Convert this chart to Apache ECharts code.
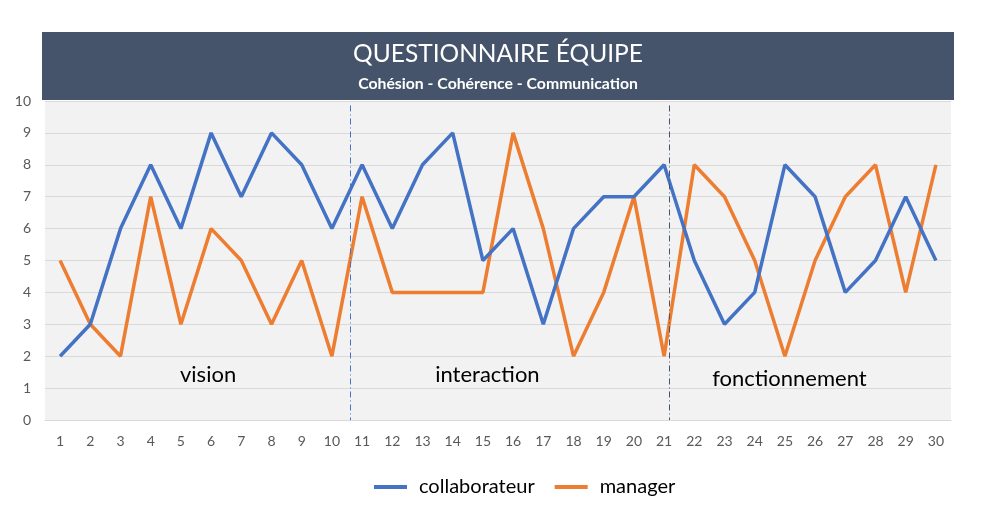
<!DOCTYPE html>
<html><head><meta charset="utf-8">
<script src="https://cdn.jsdelivr.net/npm/echarts@6/dist/echarts.min.js"></script>
<style>html,body{margin:0;padding:0;background:#fff}#c{width:986px;height:526px}</style>
</head><body><div id="c"></div>
<script>
const categories = ['1','2','3','4','5','6','7','8','9','10','11','12','13','14','15','16','17','18','19','20','21','22','23','24','25','26','27','28','29','30'];
const collaborateur = [2,3,6,8,6,9,7,9,8,6,8,6,8,9,5,6,3,6,7,7,8,5,3,4,8,7,4,5,7,5];
const manager = [5,3,2,7,3,6,5,3,5,2,7,4,4,4,4,9,6,2,4,7,2,8,7,5,2,5,7,8,4,8];
const yTicks = [0,1,2,3,4,5,6,7,8,9,10];
const separators = [{x:10.6, color:'#4472C4'}, {x:21.17, color:'#44546A'}];
const sectionLabels = [{text:'vision', x:5.9, y:1.4}, {text:'interaction', x:15.15, y:1.4}, {text:'fonctionnement', x:25.15, y:1.3}];

const FONT = 'Lato, "Open Sans", sans-serif';
const chart = echarts.init(document.getElementById('c'));
chart.setOption({
  animation:false,
  textStyle:{fontFamily:FONT},
  graphic:[
    {type:'rect', shape:{x:42,y:32,width:912,height:68}, style:{fill:'#45546A'}, z:0},
    {type:'text', x:498, y:54, style:{text:'QUESTIONNAIRE ÉQUIPE', fill:'#fff', font:'24.5px '+FONT, textAlign:'center', textVerticalAlign:'middle'}},
    {type:'text', x:498, y:84, style:{text:'Cohésion - Cohérence - Communication', fill:'#fff', font:'bold 15.8px '+FONT, textAlign:'center', textVerticalAlign:'middle'}}
  ],
  grid:{left:45, right:35, top:101, bottom:106, show:true, backgroundColor:'#F2F2F2', borderWidth:0},
  legend:{bottom:24, left:369, itemWidth:33, itemHeight:4, itemGap:20, icon:'rect',
    textStyle:{fontSize:20, color:'#000', fontFamily:FONT, padding:[0,0,0,7]}, data:['collaborateur','manager']},
  xAxis:[
    {type:'category', data:categories, boundaryGap:true,
     axisLine:{show:true, lineStyle:{color:'#D9D9D9'}}, axisTick:{show:false},
     axisLabel:{color:'#595959', fontSize:14, margin:14, interval:0}},
    {type:'value', min:0.5, max:30.5, show:false}
  ],
  yAxis:{type:'value', min:yTicks[0], max:yTicks[yTicks.length-1], interval:1,
    axisLine:{show:false}, axisTick:{show:false},
    axisLabel:{color:'#595959', fontSize:14, margin:14},
    splitLine:{lineStyle:{color:'#D9D9D9', width:1}}},
  series:[
    {name:'collaborateur', type:'line', data:collaborateur, showSymbol:false, symbol:'none',
     lineStyle:{color:'#4472C4', width:3.5}, itemStyle:{color:'#4472C4'}, z:3},
    {name:'manager', type:'line', data:manager, showSymbol:false, symbol:'none',
     lineStyle:{color:'#ED7D31', width:3.5}, itemStyle:{color:'#ED7D31'}, z:2},
    {name:'annot', type:'line', xAxisIndex:1, data:[[0.5,0]], silent:true, symbol:'none', showSymbol:false,
     lineStyle:{opacity:0}, z:4, clip:false,
     markLine:{silent:true, symbol:['none','none'], label:{show:false}, animation:false,
       data: separators.map(s => [
         {coord:[s.x, 9.86], lineStyle:{color:s.color, width:1, type:[6,3,1,3]}},
         {coord:[s.x, 0]}
       ])},
     markPoint:{silent:true, symbol:'rect', symbolSize:1, itemStyle:{opacity:0},
       data: sectionLabels.map(a => ({coord:[a.x, a.y], value:a.text,
         label:{show:true, formatter:a.text, color:'#000', fontSize:22, fontFamily:FONT, position:'inside', opacity:1}}))}
    }
  ]
});
</script></body></html>
